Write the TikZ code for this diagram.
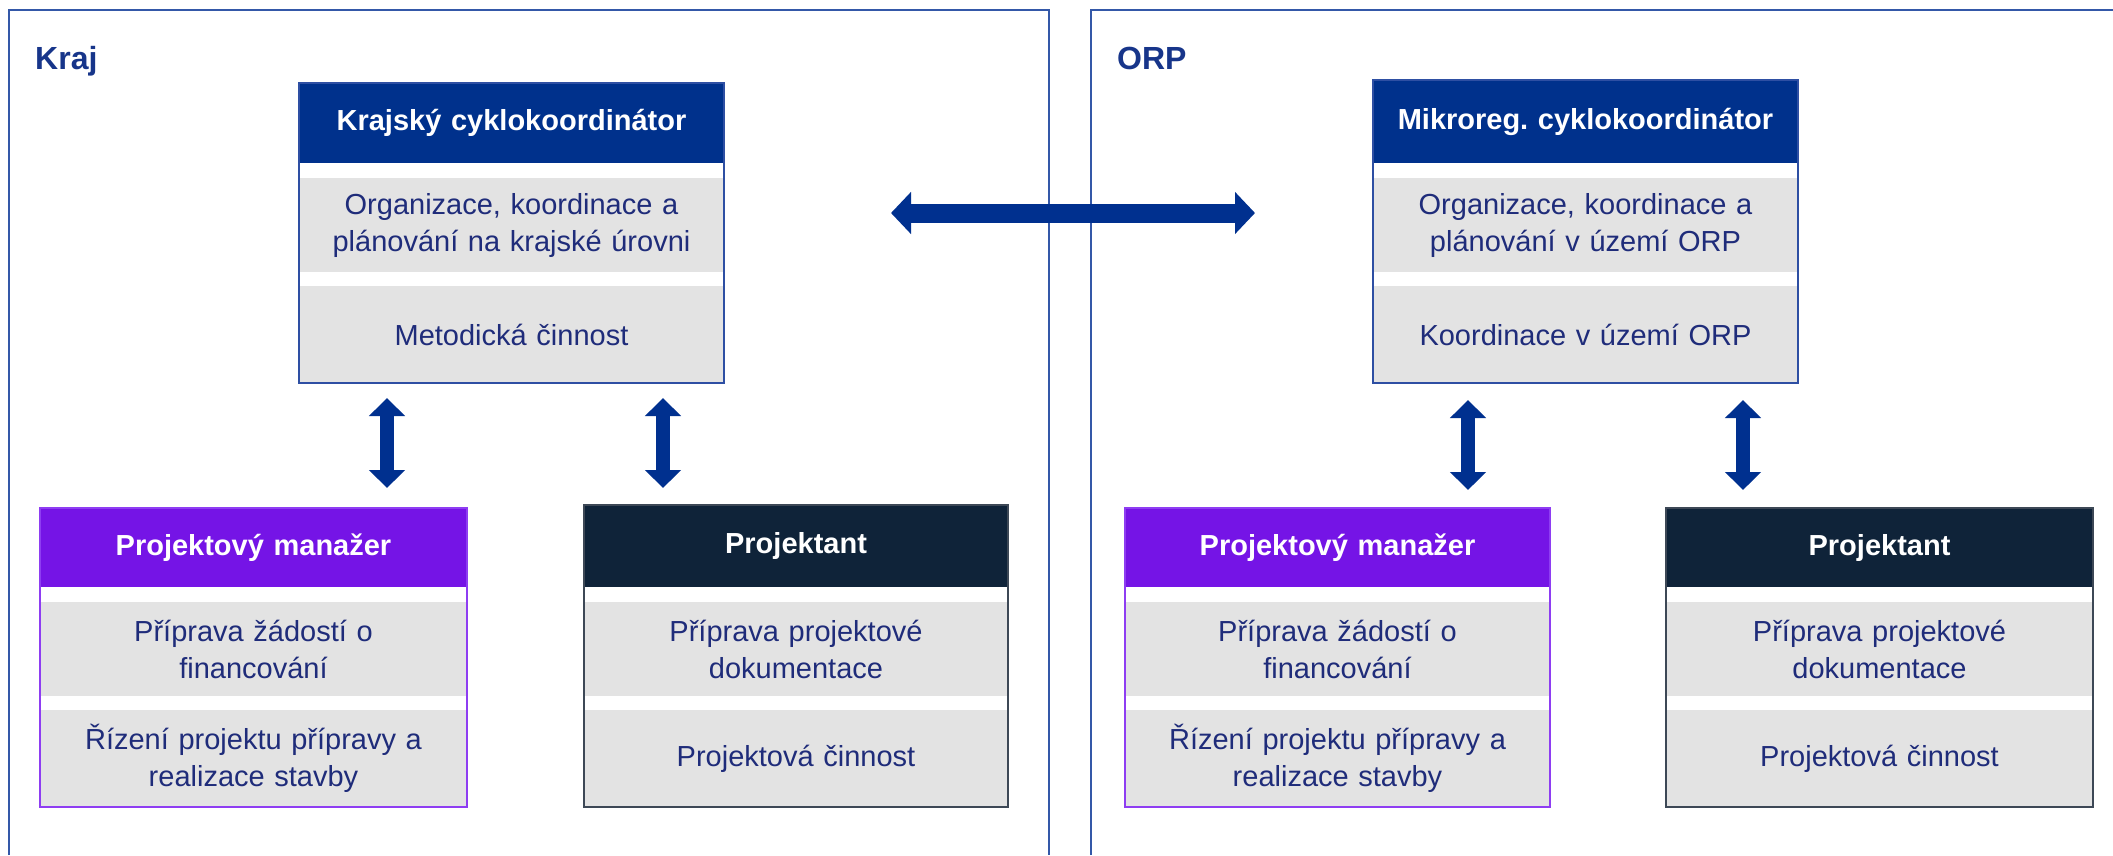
\documentclass[tikz,border=0pt]{standalone}
\usepackage{fontspec}
\setmainfont{Liberation Sans}
\usetikzlibrary{arrows.meta,calc,fit}
\frenchspacing
\definecolor{navyhdr}{HTML}{00318C}
\definecolor{purplehdr}{HTML}{7514E6}
\definecolor{darkhdr}{HTML}{0F2339}
\definecolor{rowgray}{HTML}{E3E3E3}
\definecolor{rowtext}{HTML}{1F2C7A}
\definecolor{framecol}{HTML}{3458A8}
\definecolor{bluebdr}{HTML}{2E4FA3}
\definecolor{purplebdr}{HTML}{8E3DF2}
\definecolor{darkbdr}{HTML}{3D4856}
\definecolor{arrowcol}{HTML}{00308F}
\definecolor{lblcol}{HTML}{17358A}
\newcommand\orgbox[9]{%
  \node[hdr, hdr#6, text width=#4pt, minimum height=#5pt, anchor=north west] (#1h) at (#2,#3) {#7};
  \node[row, text width=#4pt, minimum height=94pt, anchor=north] (#1a) at ($(#1h.south)+(0,15)$) {#8};
  \node[row, text width=#4pt, minimum height=97pt, anchor=north] (#1b) at ($(#1a.south)+(0,14)$) {#9};
  \node[fit=(#1h)(#1a)(#1b), inner sep=0pt, outer sep=0pt, frm#6] (#1) {};
}
\begin{document}
\begin{tikzpicture}[x=1pt,y=-1pt,
  hdr/.style={inner sep=0pt, outer sep=0pt, align=center, text=white,
    font=\bfseries\fontsize{29}{35}\selectfont},
  hdrblue/.style={fill=navyhdr},
  hdrpurple/.style={fill=purplehdr},
  hdrdark/.style={fill=darkhdr},
  row/.style={fill=rowgray, inner sep=0pt, outer sep=0pt, align=center, text=rowtext,
    font=\fontsize{29}{37}\selectfont},
  frmblue/.style={draw=bluebdr, line width=1.6pt},
  frmpurple/.style={draw=purplebdr, line width=1.6pt},
  frmdark/.style={draw=darkbdr, line width=1.6pt},
  lbl/.style={inner sep=0pt, text=lblcol, font=\bfseries\fontsize{32}{38}\selectfont},
  region/.style={draw=framecol, line width=1.6pt},
  varrow/.style={draw=arrowcol, line width=14pt,
    {Triangle[width=35pt,length=18pt]}-{Triangle[width=35pt,length=18pt]}},
  harrow/.style={draw=arrowcol, line width=19pt,
    {Triangle[width=41pt,length=20pt]}-{Triangle[width=41pt,length=20pt]}}
]
\useasboundingbox (0,0) rectangle (2113,855);
\fill[white] (0,0) rectangle (2113,855);

% region frames
\draw[region] (9,855) -- (9,10) -- (1049,10) -- (1049,855);
\draw[region] (1091,855) -- (1091,10) -- (2113,10);

\node[lbl, anchor=base west] (kraj) at (35,69) {Kraj};
\node[lbl, anchor=base west] (orp) at (1117,69) {ORP};

% boxes
\orgbox{kc}{299}{83}{425}{80}{blue}{Krajský cyklokoordinátor}{Organizace, koordinace a\\plánování na krajské úrovni}{Metodická činnost}
\orgbox{mc}{1373}{80}{425}{83}{blue}{Mikroreg. cyklokoordinátor}{Organizace, koordinace a\\plánování v území ORP}{Koordinace v území ORP}
\orgbox{pmL}{40}{508}{427}{79}{purple}{Projektový manažer}{Příprava žádostí o\\financování}{Řízení projektu přípravy a\\realizace stavby}
\orgbox{prL}{584}{505}{424}{82}{dark}{Projektant}{Příprava projektové\\dokumentace}{Projektová činnost}
\orgbox{pmR}{1125}{508}{425}{79}{purple}{Projektový manažer}{Příprava žádostí o\\financování}{Řízení projektu přípravy a\\realizace stavby}
\orgbox{prR}{1666}{508}{427}{79}{dark}{Projektant}{Příprava projektové\\dokumentace}{Projektová činnost}

% arrow positions
\coordinate (vx1) at (387,0);
\coordinate (vx2) at (663,0);
\coordinate (vx3) at (1468,0);
\coordinate (vx4) at (1743,0);
\coordinate (hy) at (0,213);

\draw[varrow] ($(kc.south -| vx1)+(0,15)$) -- ($(pmL.north -| vx1)+(0,-20)$);
\draw[varrow] ($(kc.south -| vx2)+(0,15)$) -- ($(prL.north -| vx2)+(0,-17)$);
\draw[varrow] ($(mc.south -| vx3)+(0,17)$) -- ($(pmR.north -| vx3)+(0,-18)$);
\draw[varrow] ($(mc.south -| vx4)+(0,17)$) -- ($(prR.north -| vx4)+(0,-18)$);
\draw[harrow] ($(kc.east |- hy)+(167,0)$) -- ($(mc.west |- hy)+(-118,0)$);
\end{tikzpicture}
\end{document}
